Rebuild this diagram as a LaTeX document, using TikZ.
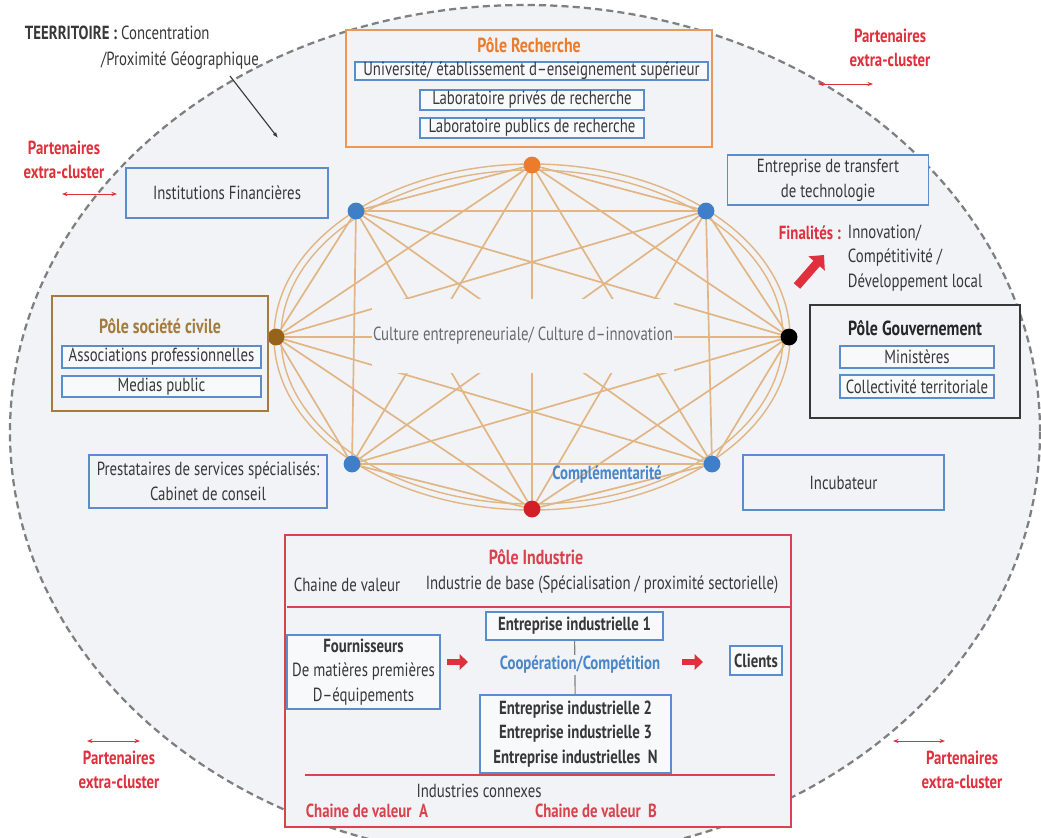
\documentclass[tikz,border=0pt]{standalone}
\usepackage{fontspec}
\setmainfont{PT Sans}[FakeStretch=0.78]
\usetikzlibrary{arrows.meta}
\definecolor{bgfill}{HTML}{F1F3F6}
\definecolor{subfill}{HTML}{F8F9FB}
\definecolor{dashgrey}{HTML}{7F7F7F}
\definecolor{txtgrey}{HTML}{383838}
\definecolor{culgrey}{HTML}{6A6A6A}
\definecolor{boxblue}{HTML}{5B8DCB}
\definecolor{partred}{HTML}{E0303D}
\definecolor{indred}{HTML}{D8434E}
\definecolor{rechorange}{HTML}{EC7B2C}
\definecolor{rechbox}{HTML}{E9975A}
\definecolor{civbrown}{HTML}{A47C3C}
\definecolor{dotbrown}{HTML}{96631A}
\definecolor{dotblue}{HTML}{3F7FC9}
\definecolor{dotred}{HTML}{D31F2A}
\definecolor{linktan}{HTML}{E2B584}
\definecolor{coopblue}{HTML}{4A86C8}
\tikzset{
  plainbox/.style={draw=boxblue, fill=bgfill, line width=0.8pt, align=center, inner sep=0pt},
  subbox/.style={draw=boxblue, fill=subfill, line width=0.8pt, inner sep=0pt},
  polebox/.style={fill=bgfill, line width=0.9pt, inner sep=0pt},
  boldtxt/.style={font=\fontsize{13.5}{17.5}\selectfont\bfseries},
  titletxt/.style={font=\fontsize{14.5}{17.5}\selectfont\bfseries},
  partner/.style={text=partred, boldtxt, align=center},
  pdot/.style={circle, minimum size=0.42cm, inner sep=0pt},
  link/.style={draw=linktan, line width=1.2pt},
  duo/.style={{Stealth[length=4pt,width=3pt]}-{Stealth[length=4pt,width=3pt]}, draw=partred, line width=0.6pt},
  redarrow/.style={-{Triangle[length=6pt,width=11pt]}, line width=4pt, draw=partred}
}
\begin{document}
\begin{tikzpicture}[x=0.025cm,y=-0.025cm,
    font=\fontsize{13.5}{17.5}\selectfont,
    every node/.append style={text=txtgrey}]
  \clip (0,0) rectangle (1041,837);
  \fill[white] (0,0) rectangle (1041,837);
  \draw[fill=bgfill, draw=dashgrey, line width=1.6pt, dash pattern=on 5pt off 3pt] (525,432) ellipse [x radius=515, y radius=427];

  \node[anchor=west, align=left] (terr) at (20,33) {\textbf{TEERRITOIRE :} Concentration};
  \node (prox) at (180,61) {/Proximité Géographique};
  \coordinate (terrend) at (278,138);
  \draw[-{Latex[length=4pt,width=3pt]}, line width=0.8pt, draw=txtgrey] (230,76) -- (terrend);

  \node[partner] (partTL) at (64,160) {Partenaires\\extra-cluster};
  \node[partner] (partTR) at (890,48) {Partenaires\\extra-cluster};
  \node[partner] (partBL) at (119,770) {Partenaires\\extra-cluster};
  \node[partner] (partBR) at (962,770) {Partenaires\\extra-cluster};
  \coordinate (tlA) at (62,194);  \coordinate (tlB) at (117,194);
  \coordinate (trA) at (818,84);  \coordinate (trB) at (873,84);
  \coordinate (blA) at (87,741);  \coordinate (blB) at (140,741);
  \coordinate (brA) at (893,741); \coordinate (brB) at (945,741);
  \draw[duo] (tlA) -- (tlB);
  \draw[duo] (trA) -- (trB);
  \draw[duo] (blA) -- (blB);
  \draw[duo] (brA) -- (brB);

  \draw[draw=linktan, line width=1pt] (532,337) ellipse [x radius=258, y radius=173];
  \draw[draw=linktan, line width=1pt] (532,337) ellipse [x radius=251, y radius=167];
  \coordinate (p1) at (532,165);
  \coordinate (p2) at (706,211);
  \coordinate (p3) at (789,337);
  \coordinate (p4) at (712,464);
  \coordinate (p5) at (532,509);
  \coordinate (p6) at (352,464);
  \coordinate (p7) at (276,337);
  \coordinate (p8) at (356,211);
  \foreach \i in {1,...,7}{
    \pgfmathtruncatemacro\k{\i+1}
    \foreach \j in {\k,...,8}{
      \draw[link] (p\i) -- (p\j);
    }
  }
  \node[fill=bgfill, text=culgrey, inner xsep=1pt, inner ysep=0.72cm] (culture) at (523,336) {Culture entrepreneuriale/ Culture d–innovation};
  \node[text=coopblue, boldtxt] (compl) at (607,475) {Complémentarité};
  \node[pdot, fill=rechorange] (d1) at (p1) {};
  \node[pdot, fill=dotblue] (d2) at (p2) {};
  \node[pdot, fill=black] (d3) at (p3) {};
  \node[pdot, fill=dotblue] (d4) at (p4) {};
  \node[pdot, fill=dotred] (d5) at (p5) {};
  \node[pdot, fill=dotblue] (d6) at (p6) {};
  \node[pdot, fill=dotbrown] (d7) at (p7) {};
  \node[pdot, fill=dotblue] (d8) at (p8) {};

  \node[polebox, draw=rechbox, minimum width=9.15cm, minimum height=2.925cm] (recherche) at (529,88.5) {};
  \node[text=rechorange, titletxt] (rechtitle) at (529,45) {Pôle Recherche};
  \node[subbox, minimum width=8.825cm, minimum height=0.45cm] (univ) at (531.5,71) {Université/ établissement d–enseignement supérieur};
  \node[subbox, minimum width=5.6cm, minimum height=0.5cm] (labpriv) at (532,100) {Laboratoire privés de recherche};
  \node[subbox, minimum width=5.6cm, minimum height=0.5cm] (labpub) at (532,128) {Laboratoire publics de recherche};

  \node[plainbox, minimum width=5.05cm, minimum height=1.25cm] (finance) at (227,193) {Institutions Financières};
  \node[plainbox, minimum width=5.025cm, minimum height=1.25cm] (transfert) at (828,180) {Entreprise de transfert\\de technologie};
  \node[plainbox, minimum width=5.95cm, minimum height=1.325cm] (prest) at (208,481.5) {Prestataires de services spécialisés:\\Cabinet de conseil};
  \node[plainbox, minimum width=5.025cm, minimum height=1.375cm] (incub) at (843.5,482.5) {Incubateur};

  \node[anchor=west, text=partred, boldtxt] (final) at (774,233) {Finalités :};
  \node[anchor=west, align=left] (finaltxt) at (843,258) {Innovation/\\Compétitivité /\\Développement local};
  \coordinate (finA) at (797,286);
  \coordinate (finB) at (824,255);
  \draw[-{Triangle[length=8pt,width=15pt]}, line width=6pt, draw=partred] (finA) -- (finB);

  \node[polebox, draw=civbrown, minimum width=5.4cm, minimum height=2.875cm] (civile) at (160,353.5) {};
  \node[text=civbrown, titletxt] (civtitle) at (160,326) {Pôle société civile};
  \node[subbox, minimum width=4.975cm, minimum height=0.55cm] (assoc) at (161.5,357) {Associations professionnelles};
  \node[subbox, minimum width=4.975cm, minimum height=0.525cm] (medias) at (161.5,386.5) {Medias public};

  \node[polebox, draw=txtgrey, minimum width=5.25cm, minimum height=2.825cm] (gouv) at (915,361.5) {};
  \node[text=black!85, titletxt] (gouvtitle) at (915,328) {Pôle Gouvernement};
  \node[subbox, minimum width=3.85cm, minimum height=0.55cm] (minist) at (917,357) {Ministères};
  \node[subbox, minimum width=3.85cm, minimum height=0.575cm] (collect) at (917,386.5) {Collectivité territoriale};

  \node[polebox, draw=indred, minimum width=12.65cm, minimum height=7.3cm] (industrie) at (538,681) {};
  \node[text=indred, titletxt] (indtitle) at (536,557) {Pôle Industrie};
  \node (chaine) at (347,585) {Chaine de valeur};
  \node (base) at (602,585) {Industrie de base (Spécialisation / proximité sectorielle)};
  \draw[draw=indred, line width=0.9pt] (287,607) -- (790,607);
  \node[plainbox, fill=subfill, minimum width=3.825cm, minimum height=1.85cm] (fourn) at (363.5,672) {\textbf{Fournisseurs}\\De matières premières\\D–équipements};
  \node[plainbox, fill=subfill, minimum width=4.425cm, minimum height=0.7cm, boldtxt] (ent1) at (574.5,626) {Entreprise industrielle 1};
  \node[plainbox, fill=subfill, minimum width=4.775cm, minimum height=1.95cm, boldtxt] (entN) at (575.5,734) {Entreprise industrielle 2\\Entreprise industrielle 3\\Entreprise industrielles\ \ N};
  \node[plainbox, fill=subfill, minimum width=1.3cm, minimum height=0.725cm, boldtxt] (clients) at (756,660.5) {Clients};
  \draw[draw=dashgrey, line width=0.8pt] (ent1) -- (entN);
  \node[fill=bgfill, inner sep=1pt, text=coopblue, boldtxt] (coop) at (580,665) {Coopération/Compétition};
  \coordinate (arrA) at (447,662); \coordinate (arrB) at (468,662);
  \coordinate (arrC) at (682,662); \coordinate (arrD) at (703,662);
  \draw[redarrow] (arrA) -- (arrB);
  \draw[redarrow] (arrC) -- (arrD);
  \draw[draw=indred, line width=0.9pt] (305,775) -- (775,775);
  \node (connexes) at (479,791) {Industries connexes};
  \node[text=indred, boldtxt] (chaineA) at (367,811) {Chaine de valeur\ \ A};
  \node[text=indred, boldtxt] (chaineB) at (596,811) {Chaine de valeur\ \ B};
\end{tikzpicture}
\end{document}
